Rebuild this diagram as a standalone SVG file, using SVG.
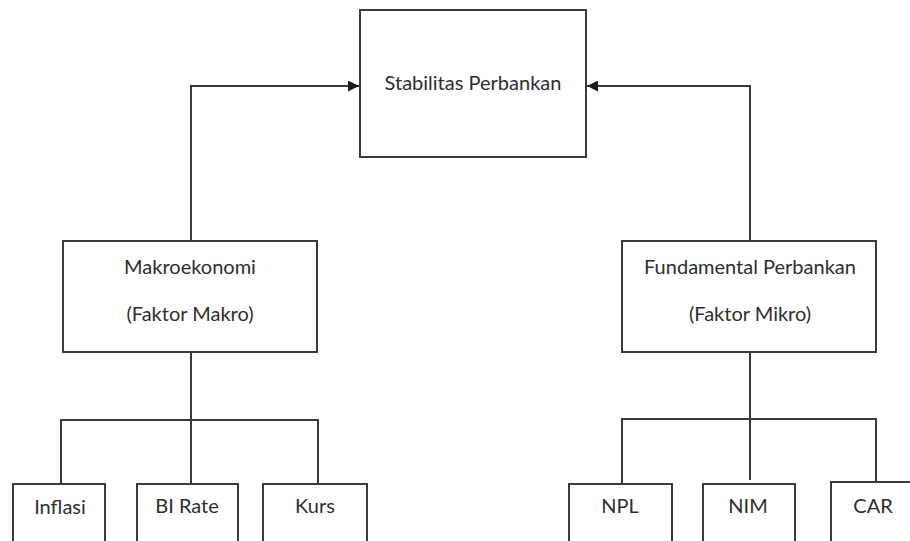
<svg xmlns="http://www.w3.org/2000/svg" width="910" height="541" viewBox="0 0 910 541">
<style>
.box{fill:#ffffff;stroke:#3a3a3a;stroke-width:2}
.ln{fill:none;stroke:#3a3a3a;stroke-width:2}
.t{font-family:Lato,"Liberation Sans",sans-serif;font-size:20px;fill:#2e2e2e;text-anchor:middle}
</style>
<defs>
<marker id="ah" markerUnits="userSpaceOnUse" markerWidth="11" markerHeight="11" refX="10" refY="5" orient="auto" viewBox="0 0 10 10">
<path d="M0,0 L10,5 L0,10 z" fill="#1a1a1a"/>
</marker>
</defs>
<rect width="910" height="541" fill="#ffffff"/>
<g id="connectors">
<path class="ln" d="M191,241 V86 H359" marker-end="url(#ah)"/>
<path class="ln" d="M750,241 V86 H587" marker-end="url(#ah)"/>
<path class="ln" d="M191,352 V484"/>
<path class="ln" d="M61,484 V420 H318 V484"/>
<path class="ln" d="M750,352 V480"/>
<path class="ln" d="M622,484 V419 H876 V482"/>
</g>
<g id="stabilitas">
<rect class="box" x="360" y="10" width="226" height="147"/>
<text class="t" x="473" y="90">Stabilitas Perbankan</text>
</g>
<g id="makro">
<rect class="box" x="63" y="241" width="254" height="111"/>
<text class="t" x="190" y="274">Makroekonomi</text>
<text class="t" x="190" y="321">(Faktor Makro)</text>
</g>
<g id="mikro">
<rect class="box" x="622" y="241" width="254" height="111"/>
<text class="t" x="750" y="274">Fundamental Perbankan</text>
<text class="t" x="750" y="321">(Faktor Mikro)</text>
</g>
<g id="inflasi">
<rect class="box" x="13" y="484" width="92" height="80"/>
<text class="t" x="60" y="514">Inflasi</text>
</g>
<g id="birate">
<rect class="box" x="137" y="484" width="101" height="80"/>
<text class="t" x="187" y="513">BI Rate</text>
</g>
<g id="kurs">
<rect class="box" x="263" y="484" width="104" height="80"/>
<text class="t" x="315" y="513">Kurs</text>
</g>
<g id="npl">
<rect class="box" x="569" y="484" width="103" height="80"/>
<text class="t" x="620" y="513">NPL</text>
</g>
<g id="nim">
<rect class="box" x="703" y="484" width="92" height="80"/>
<text class="t" x="748" y="513">NIM</text>
</g>
<g id="car">
<rect class="box" x="831" y="482" width="100" height="80"/>
<text class="t" x="873" y="513">CAR</text>
</g>
</svg>
